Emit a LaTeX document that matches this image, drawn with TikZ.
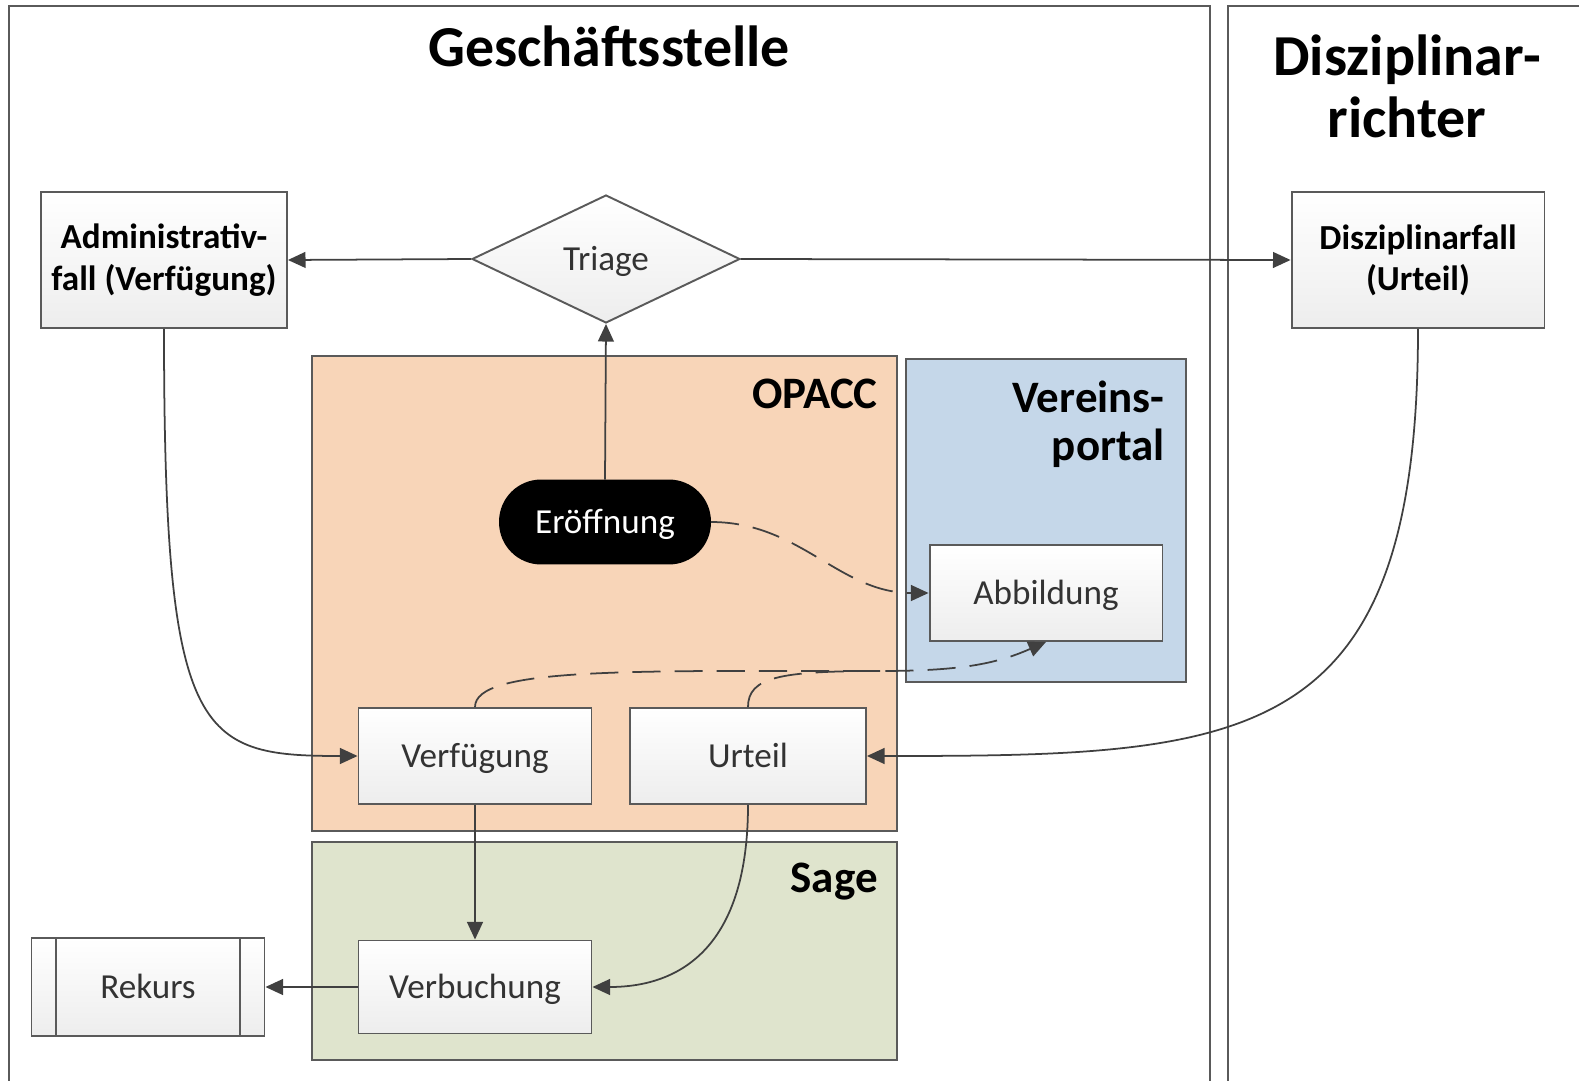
\documentclass[tikz,border=0pt]{standalone}
\usepackage{fontspec}
\setmainfont{Carlito}
\usetikzlibrary{shapes.geometric,arrows.meta}

\definecolor{linegray}{HTML}{404040}
\definecolor{boxgray}{HTML}{5A5A5A}
\definecolor{opacccol}{HTML}{F8D5B8}
\definecolor{portalcol}{HTML}{C5D7E9}
\definecolor{sagecol}{HTML}{DFE4CD}

\tikzset{
	box/.style={draw=boxgray, line width=1.1pt, top color=white, bottom color=black!7,
		minimum width=4.66cm, minimum height=1.92cm, inner sep=0pt, align=center,
		text=black!80, font=\fontsize{20}{23.5}\selectfont},
	stepbox/.style={box, text height=17.3pt, text depth=4.5pt},
	casebox/.style={box, minimum height=2.72cm, text=black, font=\fontsize{20}{23.5}\selectfont\bfseries},
	area/.style={draw=boxgray, line width=1.1pt},
	arealabel/.style={inner sep=0pt, align=right, font=\fontsize{25.6}{27.3}\selectfont\bfseries},
	lanetitle/.style={inner sep=0pt, align=center, font=\fontsize{33}{35.5}\selectfont\bfseries},
	conn/.style={draw=linegray, line width=1pt, -{Triangle[length=10pt,width=9pt]}},
	dashconn/.style={conn, dash pattern=on 16pt off 8pt},
}

\begin{document}
\begin{tikzpicture}[x=0.02cm, y=-0.02cm]

	\useasboundingbox (0,0) rectangle (1579,1081);

	% swimlanes
	\draw[area, line width=1.2pt] (9,1081) |- (1210,6) -- (1210,1081);
	\draw[area, line width=1.2pt] (1228,1081) |- (1579,6);
	\node[lanetitle, anchor=base] (gstitle) at (609,67) {Geschäftsstelle};
	\node[lanetitle, anchor=north] (drtitle) at (1407,34) {Disziplinar-\\richter};

	% systems
	\draw[area, fill=opacccol] (312,356) rectangle (897,831);
	\draw[area, fill=portalcol] (906,359) rectangle (1186,682);
	\draw[area, fill=sagecol] (312,842) rectangle (897,1060);
	\node[arealabel, anchor=base east] (opacclabel) at (878,408) {OPACC};
	\node[arealabel, anchor=north east] (portallabel) at (1165,381) {Vereins-\\portal};
	\node[arealabel, anchor=base east] (sagelabel) at (878,892) {Sage};

	% steps
	\node[casebox, minimum width=4.92cm] (admin) at (164,260) {Administrativ-\\fall (Verfügung)};
	\node[casebox, minimum width=5.06cm] (diszi) at (1418,260) {Disziplinarfall\\(Urteil)};
	\node[stepbox, diamond, aspect=2.1, minimum width=5.36cm, minimum height=2.56cm] (triage) at (606,259) {Triage};
	\node[stepbox, fill=black, draw=black, top color=black, bottom color=black, text=white,
		rounded corners=0.82cm, minimum width=4.2cm, minimum height=1.66cm] (eroeff) at (605,522) {Eröffnung};
	\node[stepbox] (abb) at (1046,593) {Abbildung};
	\node[stepbox] (verf) at (475,756) {Verfügung};
	\node[stepbox, minimum width=4.72cm] (urteil) at (748,756) {Urteil};
	\node[stepbox, minimum height=1.86cm] (verb) at (475,987) {Verbuchung};
	\node[stepbox, minimum height=1.96cm] (rekurs) at (148,987) {Rekurs};
	\draw[boxgray, line width=1.1pt] ([xshift=0.5cm]rekurs.north west) -- ([xshift=0.5cm]rekurs.south west);
	\draw[boxgray, line width=1.1pt] ([xshift=-0.5cm]rekurs.north east) -- ([xshift=-0.5cm]rekurs.south east);

	% flow
	\draw[conn] (eroeff.north) -- (triage.south);
	\draw[conn] (triage.west) -- (admin.east);
	\draw[conn] (triage.east) -- (diszi.west);
	\draw[conn] (admin.south) .. controls +(0,410) and +(-160,0) .. (verf.west);
	\draw[conn] (diszi.south) .. controls +(0,420) and +(380,0) .. (urteil.east);
	\draw[dashconn] (eroeff.east) to[out=0, in=180] (abb.west);
	\coordinate (dashmid) at (880,671);
	\draw[dashconn] (verf.north) .. controls +(0,-40) and +(-250,0) .. (dashmid)
		.. controls +(80,0) and +(-50,22) .. (abb.south);
	\draw[draw=linegray, line width=1pt, dash pattern=on 16pt off 8pt] (urteil.north) .. controls +(0,-30) and +(-100,0) .. (dashmid);
	\draw[conn] (verf.south) -- (verb.north);
	\draw[conn] (urteil.south) .. controls +(0,140) and +(90,0) .. (verb.east);
	\draw[conn] (verb.west) -- (rekurs.east);

\end{tikzpicture}
\end{document}
